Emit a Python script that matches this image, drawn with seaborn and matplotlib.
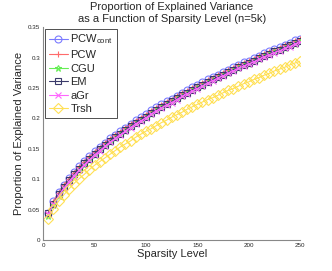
import pandas as pd
import matplotlib
matplotlib.use("Agg")
import matplotlib.pyplot as plt
import seaborn as sns

sparsity = list(range(5, 251, 5))

pcw_cont = [0.045, 0.064, 0.079, 0.091, 0.102, 0.112, 0.121, 0.130, 0.138, 0.146,
            0.153, 0.160, 0.167, 0.173, 0.179, 0.185, 0.191, 0.197, 0.202, 0.207,
            0.213, 0.218, 0.223, 0.228, 0.232, 0.237, 0.242, 0.246, 0.251, 0.255,
            0.259, 0.264, 0.268, 0.272, 0.276, 0.280, 0.284, 0.288, 0.292, 0.295,
            0.299, 0.303, 0.307, 0.310, 0.314, 0.317, 0.321, 0.324, 0.328, 0.331]
pcw = [0.045, 0.063, 0.078, 0.090, 0.101, 0.111, 0.120, 0.129, 0.137, 0.145,
       0.152, 0.159, 0.166, 0.172, 0.178, 0.184, 0.190, 0.196, 0.201, 0.206,
       0.212, 0.217, 0.222, 0.227, 0.231, 0.236, 0.241, 0.245, 0.250, 0.254,
       0.258, 0.263, 0.267, 0.271, 0.275, 0.279, 0.283, 0.287, 0.291, 0.294,
       0.298, 0.302, 0.306, 0.309, 0.313, 0.316, 0.320, 0.323, 0.327, 0.330]
cgu = [0.040, 0.057, 0.072, 0.085, 0.096, 0.106, 0.115, 0.124, 0.132, 0.140,
       0.148, 0.155, 0.162, 0.168, 0.174, 0.180, 0.186, 0.192, 0.197, 0.202,
       0.208, 0.213, 0.218, 0.223, 0.227, 0.232, 0.237, 0.241, 0.246, 0.250,
       0.254, 0.259, 0.263, 0.267, 0.271, 0.275, 0.279, 0.283, 0.287, 0.290,
       0.294, 0.298, 0.302, 0.305, 0.309, 0.312, 0.316, 0.319, 0.323, 0.326]
em = [0.044, 0.060, 0.075, 0.087, 0.098, 0.108, 0.117, 0.126, 0.134, 0.142,
      0.149, 0.156, 0.163, 0.169, 0.175, 0.181, 0.187, 0.193, 0.198, 0.203,
      0.209, 0.214, 0.219, 0.224, 0.228, 0.233, 0.238, 0.242, 0.247, 0.251,
      0.255, 0.260, 0.264, 0.268, 0.272, 0.276, 0.280, 0.284, 0.288, 0.291,
      0.295, 0.299, 0.303, 0.306, 0.310, 0.313, 0.317, 0.320, 0.324, 0.327]
agr = [0.043, 0.059, 0.073, 0.085, 0.096, 0.106, 0.115, 0.124, 0.132, 0.140,
       0.147, 0.154, 0.161, 0.167, 0.173, 0.179, 0.185, 0.191, 0.196, 0.201,
       0.207, 0.212, 0.217, 0.222, 0.226, 0.231, 0.236, 0.240, 0.245, 0.249,
       0.253, 0.258, 0.262, 0.266, 0.270, 0.274, 0.278, 0.282, 0.286, 0.289,
       0.293, 0.297, 0.301, 0.304, 0.308, 0.311, 0.315, 0.318, 0.322, 0.325]
trsh = [0.035, 0.051, 0.064, 0.074, 0.084, 0.093, 0.101, 0.108, 0.116, 0.123,
        0.129, 0.135, 0.141, 0.147, 0.153, 0.158, 0.163, 0.169, 0.174, 0.179,
        0.183, 0.188, 0.193, 0.197, 0.202, 0.206, 0.210, 0.215, 0.219, 0.223,
        0.227, 0.231, 0.234, 0.238, 0.242, 0.246, 0.249, 0.253, 0.257, 0.260,
        0.264, 0.267, 0.271, 0.274, 0.278, 0.281, 0.284, 0.288, 0.291, 0.294]

methods = [r'PCW$_{\mathrm{cont}}$', 'PCW', 'CGU', 'EM', 'aGr', 'Trsh']
series = [pcw_cont, pcw, cgu, em, agr, trsh]

colors = ['#7b7bff', '#ff6b6b', '#66ee55', '#3a3a6a', '#ff66ff', '#ffe055']
markers = ['o', '+', '*', 's', 'x', 'D']

sns.set_style("white")
plt.rcParams['font.family'] = ['Liberation Sans', 'DejaVu Sans']
plt.rcParams['mathtext.fontset'] = 'custom'
plt.rcParams['mathtext.rm'] = 'Liberation Sans'

fig = plt.figure(figsize=(3.32, 2.71), dpi=100)
ax = fig.add_axes([0.130, 0.114, 0.774, 0.786])

for name, vals, c, m in zip(methods, series, colors, markers):
    d = pd.DataFrame({'k': sparsity, 'var': vals})
    sns.lineplot(data=d, x='k', y='var', color=c, marker=m, markersize=5,
                 markerfacecolor='none', markeredgecolor=c, markeredgewidth=0.8,
                 linewidth=0.8, label=name, ax=ax)

ax.set_xlim(0, 250)
ax.set_ylim(0, 0.35)
ax.set_xticks([0, 50, 100, 150, 200, 250])
ax.set_yticks([0, 0.05, 0.1, 0.15, 0.2, 0.25, 0.3, 0.35])
ax.set_yticklabels(['0', '0.05', '0.1', '0.15', '0.2', '0.25', '0.3', '0.35'])
ax.tick_params(labelsize=4.5, direction='in', length=2, width=0.5, color='#888888',
               pad=2)
for s in ['top', 'right']:
    ax.spines[s].set_visible(False)
for s in ['left', 'bottom']:
    ax.spines[s].set_color('#888888')
    ax.spines[s].set_linewidth(0.8)

ax.set_xlabel('Sparsity Level', fontsize=8, labelpad=1)
ax.set_ylabel('Proportion of Explained Variance', fontsize=8, labelpad=3)
ax.set_title('Proportion of Explained Variance\nas a Function of Sparsity Level (n=5k)',
             fontsize=8, pad=4, linespacing=1.15)

leg = ax.legend(loc='upper left', fontsize=8, frameon=True, fancybox=False,
                handlelength=1.7, handletextpad=0.25, borderpad=0.35,
                labelspacing=0.32, borderaxespad=0.15)
leg.get_frame().set_edgecolor('black')
leg.get_frame().set_linewidth(0.6)

fig.savefig('out.png', dpi=100)
